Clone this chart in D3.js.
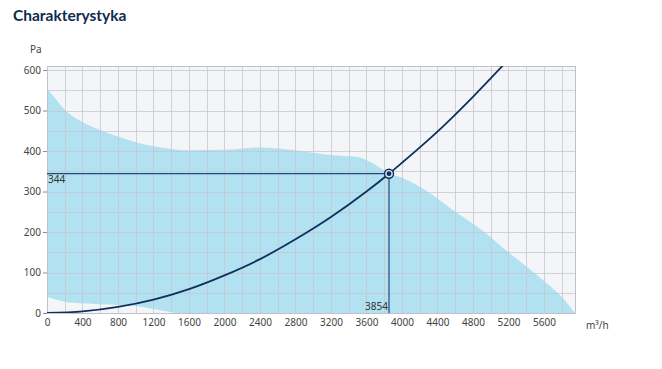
<!DOCTYPE html>
<html>
<head>
<meta charset="utf-8">
<script src="https://cdn.jsdelivr.net/npm/d3@7"></script>
<style>
  body { margin: 0; background: #fff; }
  svg text { font-family: "Noto Sans", "Open Sans", sans-serif; }
</style>
</head>
<body>
<div id="chart"></div>
<script>
// Fan working area - upper edge (m3/h, Pa)
const upperFlow = [0, 100, 200, 400, 600, 800, 1000, 1200, 1600, 2000, 2400, 2800, 3000, 3200, 3500, 3650, 3854, 4000, 4350, 4600, 4900, 5200, 5580, 5800, 5950];
const upperPa   = [555, 528, 502, 472, 452, 436, 422, 412, 402, 403, 409, 402, 396, 390, 385, 372, 345, 334, 291, 250, 205, 150, 83, 40, 0];
// lower edge
const lowerFlow = [0, 200, 400, 800, 1000, 1200, 1450];
const lowerPa   = [40, 28, 24, 20, 17, 10, 0];
// system curve
const sysFlow = [0, 400, 800, 1200, 1600, 2000, 2400, 2800, 3200, 3600, 3854, 4000, 4400, 4800, 5200];
const sysPa   = [0, 4, 15, 33, 59, 93, 133, 182, 237, 300, 344, 371, 448, 534, 626];
// operating point
const opFlow = 3854, opPa = 344;

const xTicks = [0, 400, 800, 1200, 1600, 2000, 2400, 2800, 3200, 3600, 4000, 4400, 4800, 5200, 5600];
const yTicks = [0, 100, 200, 300, 400, 500, 600];

const W = 662, H = 369;
const x = d3.scaleLinear().domain([0, 5950]).range([47, 575]);
const y = d3.scaleLinear().domain([0, 610]).range([313, 66]);

const svg = d3.select("#chart").append("svg")
  .attr("width", W).attr("height", H);

// title
svg.append("text")
  .attr("x", 13).attr("y", 21)
  .attr("fill", "#0e2b50")
  .attr("font-weight", "bold")
  .attr("font-size", "15.5px")
  .style("font-family", "Lato, sans-serif")
  .text("Charakterystyka");

svg.append("defs").append("clipPath").attr("id", "plotClip")
  .append("rect")
  .attr("x", x(0)).attr("y", y(610))
  .attr("width", x(5950) - x(0)).attr("height", y(0) - y(610));

// plot background
svg.append("rect")
  .attr("x", x(0)).attr("y", y(610))
  .attr("width", x(5950) - x(0)).attr("height", y(0) - y(610))
  .attr("fill", "#f4f5f8");

// working area polygon: upper edge then lower edge reversed
const upperPts = upperFlow.map((f, i) => [f, upperPa[i]]);
const lowerPts = lowerFlow.map((f, i) => [f, lowerPa[i]]).reverse();
const areaLine = d3.line()
  .x(d => x(d[0])).y(d => y(d[1]))
  .curve(d3.curveMonotoneX);
const upperPath = areaLine(upperPts);
const lowerPath = areaLine(lowerPts);
svg.append("path")
  .attr("d", upperPath + "L" + lowerPath.slice(1) + "Z")
  .attr("fill", "#b2e2f2");

// grid (minor every 200 / 50)
const grid = svg.append("g").attr("stroke", "#c4c6cc").attr("stroke-opacity", 0.75).attr("stroke-width", 1);
grid.selectAll("line.v")
  .data(d3.range(200, 5950, 200))
  .enter().append("line")
  .attr("x1", d => Math.round(x(d)) + 0.5).attr("x2", d => Math.round(x(d)) + 0.5)
  .attr("y1", y(610)).attr("y2", y(0));
grid.selectAll("line.h")
  .data(d3.range(50, 610, 50))
  .enter().append("line")
  .attr("y1", d => Math.round(y(d)) + 0.5).attr("y2", d => Math.round(y(d)) + 0.5)
  .attr("x1", x(0)).attr("x2", x(5950));

// border
svg.append("rect")
  .attr("x", x(0) + 0.5).attr("y", Math.round(y(610)) + 0.5)
  .attr("width", x(5950) - x(0)).attr("height", y(0) - y(610))
  .attr("fill", "none").attr("stroke", "#c0c2c8");

// axes
const xAxis = svg.append("g")
  .attr("transform", `translate(0,${y(0)})`)
  .call(d3.axisBottom(x).tickValues(xTicks).tickSize(0).tickPadding(8).tickFormat(d3.format("d")));
const yAxis = svg.append("g")
  .attr("transform", `translate(${x(0)},0)`)
  .call(d3.axisLeft(y).tickValues(yTicks).tickSize(4).tickPadding(2).tickFormat(d3.format("d")));
[xAxis, yAxis].forEach(a => {
  a.select(".domain").remove();
  a.selectAll("line").attr("stroke", "#8a8c92");
  a.selectAll("text").attr("fill", "#444").attr("font-size", "10px")
    .style("font-family", '"Noto Sans", sans-serif');
});
xAxis.selectAll("text").attr("dy", "0.45em");

svg.append("text").attr("x", 30).attr("y", 53)
  .attr("fill", "#444").attr("font-size", "10px").text("Pa");
svg.append("text").attr("x", 586).attr("y", 329)
  .attr("fill", "#444").attr("font-size", "10px").text("m³/h");

// system curve
const sysLine = d3.line()
  .x((d, i) => x(sysFlow[i])).y(d => y(d))
  .curve(d3.curveMonotoneX);
svg.append("path")
  .attr("clip-path", "url(#plotClip)")
  .attr("d", sysLine(sysPa))
  .attr("fill", "none")
  .attr("stroke", "#0f2f5c")
  .attr("stroke-width", 1.8);

// operating point lines
svg.append("line")
  .attr("x1", x(0)).attr("x2", x(opFlow))
  .attr("y1", y(opPa)).attr("y2", y(opPa))
  .attr("stroke", "#1d4a7c").attr("stroke-width", 1.2);
svg.append("line")
  .attr("x1", x(opFlow)).attr("x2", x(opFlow))
  .attr("y1", y(opPa)).attr("y2", y(0))
  .attr("stroke", "#1d4a7c").attr("stroke-width", 1.2);
svg.append("text")
  .attr("x", x(0) + 1).attr("y", y(opPa) + 9)
  .attr("fill", "#333").attr("font-size", "10px").text(opPa);
svg.append("text")
  .attr("x", x(opFlow) - 1).attr("y", y(0) - 3)
  .attr("text-anchor", "end")
  .attr("fill", "#333").attr("font-size", "10px").text(opFlow);

svg.append("circle")
  .attr("cx", x(opFlow)).attr("cy", y(opPa)).attr("r", 4.5)
  .attr("fill", "#d7e6f2").attr("stroke", "#0f2f5c").attr("stroke-width", 1.4);
svg.append("circle")
  .attr("cx", x(opFlow)).attr("cy", y(opPa)).attr("r", 2.4)
  .attr("fill", "#0f2f5c");
</script>
</body>
</html>
